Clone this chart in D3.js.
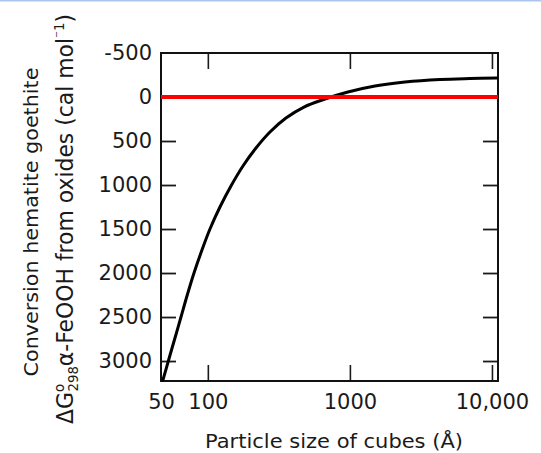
<!DOCTYPE html>
<html>
<head>
<meta charset="utf-8">
<script src="https://cdn.jsdelivr.net/npm/d3@7"></script>
<style>
  html, body { margin: 0; padding: 0; background: #fff; }
  svg { display: block; }
  text { font-family: "DejaVu Sans", sans-serif; fill: #1a1a1a; }
</style>
</head>
<body>
<svg id="chart" width="541" height="453"></svg>
<script>
// Data
const particleSize = [48.3, 53.2, 58.7, 64.7, 71.3, 79.9, 90.9, 103.5, 121.7, 145.5, 176.7, 218.2, 273.7, 354.8, 475, 667.6, 969, 1502, 2442, 4308, 7004, 10851];
const deltaG = [3216, 2977, 2738, 2500, 2261, 2000, 1739, 1500, 1250, 1011, 784, 580, 398, 239, 114, 23, -57, -125, -170, -199, -210, -216];
const refValue = [0];
const xTickValues = [50, 100, 1000, 10000];
const xTickLabels = ["50", "100", "1000", "10,000"];
const yTickValues = [-500, 0, 500, 1000, 1500, 2000, 2500, 3000];
const yTickLabels = ["-500", "0", "500", "1000", "1500", "2000", "2500", "3000"];
const xTitle = "Particle size of cubes (Å)";
const yTitle1 = "Conversion hematite goethite";

const svg = d3.select("#chart");
const L = 161, R = 498, T = 53, B = 381;

const x = d3.scaleLog().domain([46.8, 11030]).range([L, R]);
const y = d3.scaleLinear().domain([-500, 3227]).range([T, B]);

// thin blue line at the very top
svg.append("rect").attr("x", 0).attr("y", 0).attr("width", 541).attr("height", 1.5).attr("fill", "#aac6ec");

// Left axis with inward ticks
const gLeft = svg.append("g").attr("transform", `translate(${L},0)`)
  .call(d3.axisLeft(y).tickValues(yTickValues)
    .tickFormat((d, i) => yTickLabels[i])
    .tickSizeInner(-15).tickSizeOuter(0).tickPadding(9));
gLeft.select(".domain").remove();
gLeft.selectAll(".tick line").attr("stroke", "#1a1a1a").attr("stroke-width", 1.8)
  .filter(d => d === -500).remove();
gLeft.selectAll(".tick text").attr("font-size", 21).attr("font-family", "DejaVu Sans").attr("fill", "#1a1a1a");

// Right axis (ticks only)
const gRight = svg.append("g").attr("transform", `translate(${R},0)`)
  .call(d3.axisRight(y).tickValues(yTickValues.filter(v => v > 0))
    .tickFormat("").tickSizeInner(-15).tickSizeOuter(0));
gRight.select(".domain").remove();
gRight.selectAll(".tick line").attr("stroke", "#1a1a1a").attr("stroke-width", 1.8);

// Bottom axis
const gBottom = svg.append("g").attr("transform", `translate(0,${B})`)
  .call(d3.axisBottom(x).tickValues(xTickValues)
    .tickFormat((d, i) => xTickLabels[i])
    .tickSizeInner(-16).tickSizeOuter(0).tickPadding(13));
gBottom.select(".domain").remove();
gBottom.selectAll(".tick line").attr("stroke", "#1a1a1a").attr("stroke-width", 1.6)
  .filter(d => d === 50).remove();
gBottom.selectAll(".tick text").attr("font-size", 21).attr("font-family", "DejaVu Sans").attr("fill", "#1a1a1a")
  .attr("dx", d => d === 50 ? -4 : 0);

// Top axis (ticks only)
const gTop = svg.append("g").attr("transform", `translate(0,${T})`)
  .call(d3.axisTop(x).tickValues(xTickValues.filter(v => v >= 100))
    .tickFormat("").tickSizeInner(-16).tickSizeOuter(0));
gTop.select(".domain").remove();
gTop.selectAll(".tick line").attr("stroke", "#1a1a1a").attr("stroke-width", 1.6);

// Frame
svg.append("rect").attr("x", L).attr("y", T).attr("width", R - L).attr("height", B - T)
  .attr("fill", "none").attr("stroke", "#111").attr("stroke-width", 2);

// Curve
const pts = particleSize.map((s, i) => [s, deltaG[i]]);
svg.append("path").datum(pts)
  .attr("fill", "none").attr("stroke", "#000").attr("stroke-width", 3)
  .attr("stroke-linejoin", "round").attr("stroke-linecap", "round")
  .attr("d", d3.line().x(d => x(d[0])).y(d => y(d[1])).curve(d3.curveCatmullRom.alpha(0.5)));

// Red reference line at 0
svg.selectAll("line.ref").data(refValue).enter().append("line").attr("class", "ref")
  .attr("x1", L).attr("x2", R).attr("y1", d => y(d)).attr("y2", d => y(d))
  .attr("stroke", "#ff0000").attr("stroke-width", 4);

// Helper: fit text to a target length by horizontal scaling
function fit(sel, cx, cy, rot, target) {
  const w = sel.node().getComputedTextLength();
  const k = target / w;
  sel.attr("transform", `translate(${cx},${cy}) rotate(${rot}) scale(${k},1)`);
}

// X title
const xt = svg.append("text").attr("text-anchor", "middle").attr("font-size", 20).text(xTitle);
fit(xt, 334, 448, 0, 258);

// Y title line 1
const yt1 = svg.append("text").attr("text-anchor", "middle").attr("font-size", 20).text(yTitle1);
fit(yt1, 38, 222, -90, 309);

// Y title line 2 with sub/superscripts
const yt2 = svg.append("text").attr("text-anchor", "middle").attr("font-size", 23);
yt2.append("tspan").text("ΔG");
yt2.append("tspan").attr("font-size", 14).attr("dy", -9).text("o");
yt2.append("tspan").attr("font-size", 14).attr("dy", 14).attr("dx", -8).text("298");
yt2.append("tspan").attr("dy", -5).text("α-FeOOH from oxides (cal mol");
yt2.append("tspan").attr("font-size", 14).attr("dy", -9).text("⁻1");
yt2.append("tspan").attr("dy", 9).text(")");
fit(yt2, 73, 219, -90, 418);
</script>
</body>
</html>
